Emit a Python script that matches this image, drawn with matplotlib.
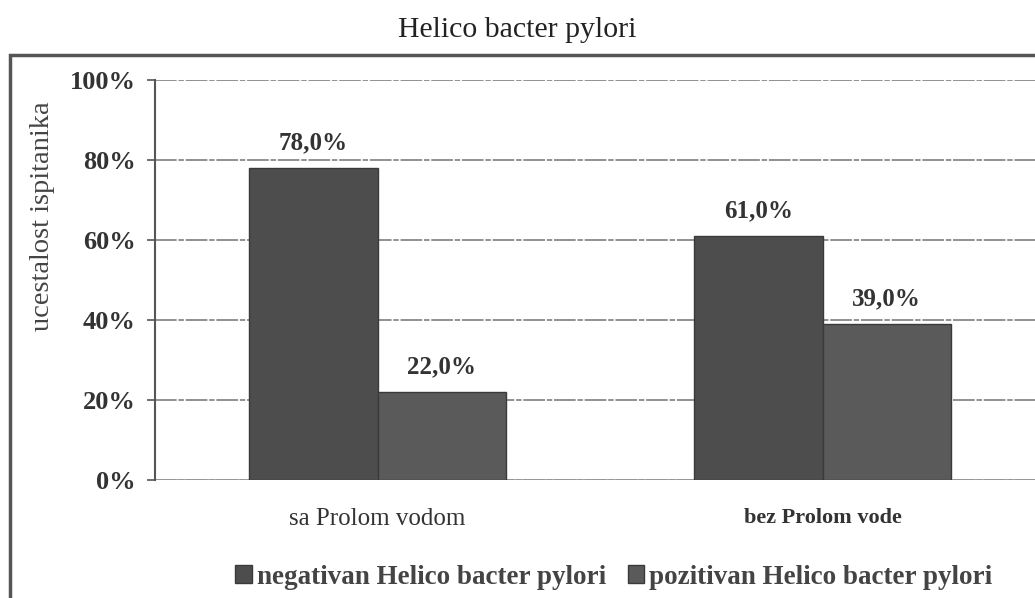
import matplotlib
matplotlib.use("Agg")
import matplotlib.pyplot as plt
import numpy as np
from matplotlib.patches import Rectangle

categories = ["sa Prolom vodom", "bez Prolom vode"]
series_names = ["negativan Helico bacter pylori", "pozitivan Helico bacter pylori"]
negativan = [78.0, 61.0]
pozitivan = [22.0, 39.0]
y_ticks = [0, 20, 40, 60, 80, 100]
y_tick_labels = ["0%", "20%", "40%", "60%", "80%", "100%"]
title = "Helico bacter pylori"
y_label = "ucestalost ispitanika"

plt.rcParams['font.family'] = ['Liberation Serif', 'DejaVu Serif']

W, H = 1035, 598
fig = plt.figure(figsize=(W / 100, H / 100), dpi=100)

# outer frame
fig.patches.append(Rectangle((10 / W, -0.05), 1.1, (598 - 55) / H + 0.05,
                             transform=fig.transFigure, fill=False,
                             edgecolor='#555555', linewidth=2.5))

ax = fig.add_axes([155 / W, 1 - 480 / H, 890 / W, 400 / H])
x = np.arange(len(categories))
bw = 0.288
c_neg = '#4d4d4d'
c_pos = '#5a5a5a'
b1 = ax.bar(x - bw / 2, negativan, bw, color=c_neg, edgecolor='#3a3a3a', linewidth=1, zorder=3,
            label=series_names[0])
b2 = ax.bar(x + bw / 2, pozitivan, bw, color=c_pos, edgecolor='#3a3a3a', linewidth=1, zorder=3,
            label=series_names[1])

for bars, vals in ((b1, negativan), (b2, pozitivan)):
    for r, v in zip(bars, vals):
        ax.text(r.get_x() + r.get_width() / 2, v + 3.5, f"{v:.1f}%".replace('.', ','),
                ha='center', va='bottom', fontsize=18, fontweight='bold', color='#333333')

ax.set_xlim(-0.5, 1.5)
ax.set_ylim(0, 100)
ax.set_yticks(y_ticks)
ax.set_yticklabels(y_tick_labels, fontsize=19, fontweight='bold', color='#333333')
ax.yaxis.grid(True, color='#888888', linewidth=1.3, linestyle=(0, (12, 1, 3, 1)), zorder=0)
ax.set_axisbelow(True)
for s in ['top', 'right', 'bottom']:
    ax.spines[s].set_visible(False)
ax.spines['left'].set_color('#555555')
ax.spines['left'].set_linewidth(1.5)
ax.tick_params(axis='y', length=6, width=1.2, color='#555555', pad=8)
ax.set_xticks(x)
ax.set_xticklabels(categories, fontsize=18, color='#333333')
ax.get_xticklabels()[1].set_fontweight('bold')
ax.get_xticklabels()[1].set_fontsize(16)
ax.tick_params(axis='x', length=0, pad=20)
ax.axhline(0, color='#999999', linewidth=1.2, zorder=2)

ax.set_ylabel(y_label, fontsize=20.5, color='#444444')
ax.yaxis.set_label_coords(-0.112, 0.66)

fig.text(517 / W, 1 - 30 / H, title, ha='center', va='center', fontsize=21.5, color='#222222')

leg = fig.legend(handles=[b1, b2], labels=series_names, loc='center',
                 bbox_to_anchor=(614 / W, 1 - 577 / H), ncol=2, frameon=False,
                 prop={'size': 19.5, 'weight': 'bold'}, handlelength=0.6, handleheight=0.6,
                 handletextpad=0.2, columnspacing=0.8)
for t in leg.get_texts():
    t.set_color('#444444')

fig.savefig("out.png", dpi=100)
